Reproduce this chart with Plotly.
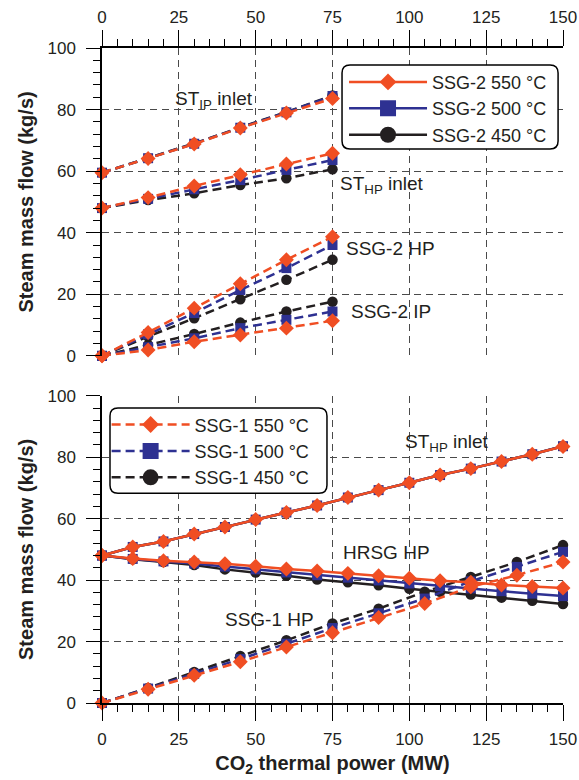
import plotly.graph_objects as go

# ---------------- data ----------------
temps = ["550 °C", "500 °C", "450 °C"]
colors = {"550 °C": "#F04E23", "500 °C": "#2E3192", "450 °C": "#231F20"}
symbols = {"550 °C": "diamond", "500 °C": "square", "450 °C": "circle"}
msizes = {"550 °C": 11.5, "500 °C": 10, "450 °C": 10.5}

# Top panel (SSG-2)
x_top = [0, 15, 30, 45, 60, 75]
st_ip_top = {
    "550 °C": [59.5, 64.1, 68.8, 74.0, 78.9, 83.6],
    "500 °C": [59.5, 64.2, 68.9, 74.1, 79.1, 84.4],
    "450 °C": [59.5, 64.2, 69.0, 74.2, 79.2, 84.6],
}
st_hp_top = {
    "550 °C": [48.0, 51.4, 55.2, 58.8, 62.3, 65.8],
    "500 °C": [48.0, 51.0, 54.1, 57.1, 60.4, 63.6],
    "450 °C": [48.0, 50.6, 52.8, 55.5, 57.7, 60.6],
}
ssg2_hp = {
    "550 °C": [0.0, 7.6, 15.5, 23.4, 31.2, 38.7],
    "500 °C": [0.0, 7.0, 13.9, 21.4, 28.5, 36.0],
    "450 °C": [0.0, 6.3, 12.2, 18.4, 24.7, 31.2],
}
ssg2_ip = {
    "550 °C": [0.0, 1.9, 4.6, 6.8, 9.0, 11.4],
    "500 °C": [0.0, 2.8, 5.7, 9.0, 11.7, 14.4],
    "450 °C": [0.0, 3.5, 7.1, 10.8, 14.4, 17.6],
}

# Bottom panel (SSG-1)
x_bot = [0, 10, 20, 30, 40, 50, 60, 70, 80, 90, 100, 110, 120, 130, 140, 150]
x_hp = [0, 15, 30, 45, 60, 75, 90, 105, 120, 135, 150]
st_hp_bot = {
    "550 °C": [48.0, 50.8, 52.6, 55.0, 57.3, 59.7, 62.0, 64.3, 66.9, 69.3, 71.7, 74.2, 76.3, 78.6, 81.0, 83.5],
    "500 °C": [48.0, 50.8, 52.6, 55.0, 57.3, 59.7, 62.0, 64.3, 66.9, 69.3, 71.7, 74.2, 76.3, 78.6, 81.0, 83.6],
    "450 °C": [48.0, 50.8, 52.6, 55.0, 57.3, 59.7, 62.0, 64.3, 66.9, 69.3, 71.7, 74.2, 76.3, 78.6, 81.0, 83.6],
}
hrsg_hp = {
    "550 °C": [48.0, 47.0, 46.3, 45.9, 45.3, 44.5, 43.6, 43.0, 42.2, 41.4, 40.6, 39.8, 39.3, 38.4, 37.9, 37.4],
    "500 °C": [48.0, 46.9, 46.1, 45.4, 44.4, 43.5, 42.5, 41.6, 40.8, 39.9, 38.9, 38.0, 37.3, 36.4, 35.6, 34.8],
    "450 °C": [48.0, 46.8, 45.9, 44.9, 43.5, 42.5, 41.4, 40.2, 39.3, 38.3, 37.2, 36.2, 35.3, 34.3, 33.3, 32.2],
}
ssg1_hp = {
    "550 °C": [0.0, 4.5, 9.0, 13.4, 18.2, 22.9, 27.8, 32.4, 37.8, 41.6, 45.9],
    "500 °C": [0.0, 4.7, 9.5, 14.3, 19.3, 24.4, 29.2, 34.0, 39.6, 44.3, 49.2],
    "450 °C": [0.0, 4.9, 10.1, 15.3, 20.4, 25.9, 30.7, 36.2, 41.0, 45.9, 51.4],
}

DASH = "9px,5px"
LW = 2.5
fig = go.Figure()


def add(x, y, t, xa, ya, dash):
    fig.add_trace(go.Scatter(
        x=x, y=y, xaxis=xa, yaxis=ya, mode="lines+markers",
        line=dict(color=colors[t], width=LW, dash=dash),
        marker=dict(symbol=symbols[t], size=msizes[t], color=colors[t]),
        showlegend=False, cliponaxis=False, hoverinfo="skip"))


draw_order = ["450 °C", "500 °C", "550 °C"]
for t in draw_order:
    for series in (st_ip_top, st_hp_top, ssg2_hp, ssg2_ip):
        add(x_top, series[t], t, "x", "y", DASH)
for t in draw_order:
    add(x_bot, st_hp_bot[t], t, "x2", "y2", "solid")
    add(x_bot, hrsg_hp[t], t, "x2", "y2", "solid")
    add(x_hp, ssg1_hp[t], t, "x2", "y2", DASH)

# legend entries
leg_msize = {"550 °C": 13, "500 °C": 16, "450 °C": 16}
for t in temps:
    fig.add_trace(go.Scatter(
        x=[None], y=[None], xaxis="x", yaxis="y", mode="lines+markers",
        name="SSG-2 " + t, legend="legend",
        line=dict(color=colors[t], width=LW),
        marker=dict(symbol=symbols[t], size=leg_msize[t], color=colors[t])))
for t in temps:
    fig.add_trace(go.Scatter(
        x=[None], y=[None], xaxis="x2", yaxis="y2", mode="lines+markers",
        name="SSG-1 " + t, legend="legend2",
        line=dict(color=colors[t], width=LW, dash=DASH),
        marker=dict(symbol=symbols[t], size=leg_msize[t], color=colors[t])))

FONT = "Liberation Sans, Arial, sans-serif"
TXT = "#231F20"
GRID = dict(showgrid=True, gridcolor="#4a4a4a", gridwidth=1, griddash="7px,5px")

xcommon = dict(range=[0, 150], dtick=25, tick0=0, showline=True, linecolor="black",
               linewidth=1.5, ticks="outside", ticklen=16, tickwidth=1.3, tickcolor="black",
               zeroline=False, tickfont=dict(size=17, color=TXT), automargin=False,
               minor=dict(dtick=5, ticks="outside", ticklen=7, tickwidth=1,
                          tickcolor="black", showgrid=False), **GRID)
ycommon = dict(range=[0, 100], dtick=20, tick0=0, showline=True, linecolor="black",
               linewidth=1.5, ticks="outside", ticklen=14, tickwidth=1.3, tickcolor="black",
               zeroline=False, tickfont=dict(size=17, color=TXT), ticklabelstandoff=7,
               automargin=False,
               minor=dict(dtick=4, ticks="outside", ticklen=7, tickwidth=1,
                          tickcolor="black", showgrid=False), **GRID)

ytitle = dict(text="<b>Steam mass flow (kg/s)</b>", font=dict(size=20, color=TXT), standoff=8)

fig.update_layout(
    width=579, height=780,
    margin=dict(l=102, r=16, t=48, b=77),
    paper_bgcolor="white", plot_bgcolor="white",
    font=dict(family=FONT, color=TXT),
    xaxis=dict(anchor="y", side="top", **xcommon),
    yaxis=dict(anchor="x", domain=[0.530, 1.0], title=ytitle, **ycommon),
    xaxis2=dict(anchor="y2", side="bottom", ticklabelstandoff=4,
                title=dict(text="<b>CO<sub>2</sub> thermal power (MW)</b>",
                           font=dict(size=20, color=TXT), standoff=8),
                **xcommon),
    yaxis2=dict(anchor="x2", domain=[0.0, 0.469], title=ytitle, **ycommon),
    legend=dict(x=0.525, y=0.976, xanchor="left", yanchor="top",
                bgcolor="rgba(0,0,0,0)", borderwidth=0, itemwidth=78,
                font=dict(size=18, color=TXT), tracegroupgap=0),
    legend2=dict(x=0.01, y=0.453, xanchor="left", yanchor="top",
                 bgcolor="rgba(0,0,0,0)", borderwidth=0, itemwidth=78,
                 font=dict(size=18, color=TXT), tracegroupgap=0),
    showlegend=True,
)


def rrect(x0, x1, y0, y1, r):
    return (f"M{x0+r},{y0} L{x1-r},{y0} Q{x1},{y0} {x1},{y0+r} L{x1},{y1-r} "
            f"Q{x1},{y1} {x1-r},{y1} L{x0+r},{y1} Q{x0},{y1} {x0},{y1-r} "
            f"L{x0},{y0+r} Q{x0},{y0} {x0+r},{y0} Z")


fig.add_shape(type="path", xref="x", yref="y", path=rrect(78.1, 148.4, 67.2, 94.5, 2.6),
              line=dict(color="black", width=1.5), fillcolor="white", layer="above")
fig.add_shape(type="path", xref="x2", yref="y2", path=rrect(2.6, 73.2, 68.3, 96.0, 2.6),
              line=dict(color="black", width=1.5), fillcolor="white", layer="above")

annots = [
    ("x", "y", 36.5, 83.0, "ST<sub>IP</sub> inlet"),
    ("x", "y", 91.0, 55.5, "ST<sub>HP</sub> inlet"),
    ("x", "y", 94.0, 35.0, "SSG-2 HP"),
    ("x", "y", 94.0, 14.5, "SSG-2 IP"),
    ("x2", "y2", 112.3, 84.7, "ST<sub>HP</sub> inlet"),
    ("x2", "y2", 92.6, 48.9, "HRSG HP"),
    ("x2", "y2", 54.6, 27.2, "SSG-1 HP"),
]
for xr, yr, xv, yv, txt in annots:
    fig.add_annotation(xref=xr, yref=yr, x=xv, y=yv, text=txt, showarrow=False,
                       font=dict(size=19, color=TXT), xanchor="center", yanchor="middle")

fig.write_html("out.html")
